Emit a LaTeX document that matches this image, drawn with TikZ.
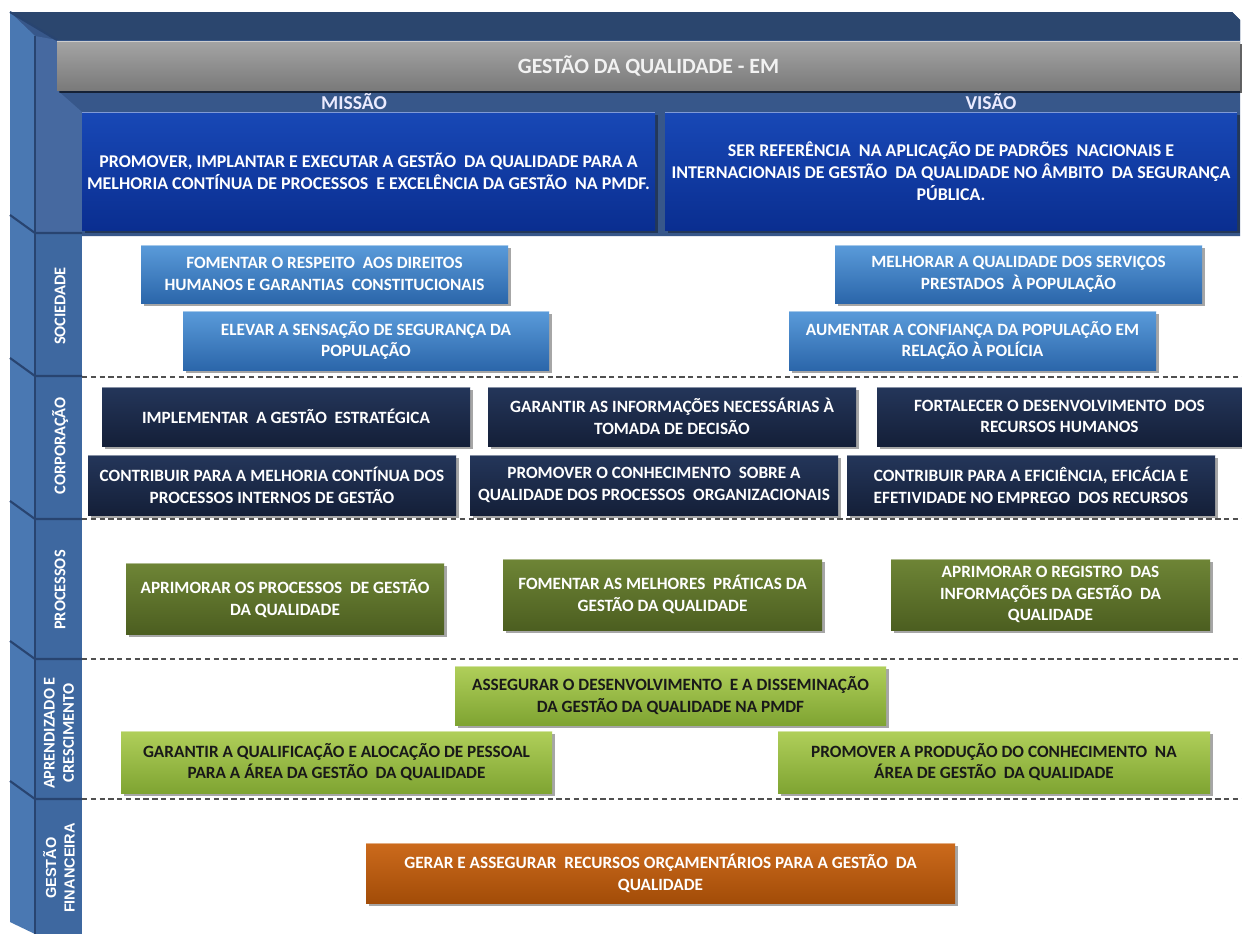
\documentclass[tikz,border=0pt]{standalone}
\usepackage{fontspec}
\setmainfont{Carlito}
\newfontfamily\arialf{Liberation Sans}
\usetikzlibrary{shadows}
\definecolor{panelc}{HTML}{37578A}
\definecolor{bandc}{HTML}{2B466E}
\definecolor{stripc}{HTML}{4A78B2}
\definecolor{facec}{HTML}{3E68A0}
\definecolor{facetop}{HTML}{4669A0}
\definecolor{bevc}{HTML}{284470}
\definecolor{grayA}{HTML}{A4A4A4}
\definecolor{grayB}{HTML}{7A7A7A}
\definecolor{misA}{HTML}{1848B6}
\definecolor{misB}{HTML}{0A2E90}
\definecolor{socA}{HTML}{5A9BDA}
\definecolor{socB}{HTML}{2B66AA}
\definecolor{navA}{HTML}{24365A}
\definecolor{navB}{HTML}{141F38}
\definecolor{oliA}{HTML}{6E8536}
\definecolor{oliB}{HTML}{4C5E20}
\definecolor{grnA}{HTML}{B0CF5A}
\definecolor{grnB}{HTML}{7FA432}
\definecolor{orA}{HTML}{CC6A1C}
\definecolor{orB}{HTML}{A24C08}
\definecolor{dashc}{HTML}{505050}
\newcommand\mybox[7]{%
  \node[#2, minimum width={(#5-#3)*0.02cm}, minimum height={(#6-#4)*0.02cm}] (#1) at ({(#3+#5)/2},{(#4+#6)/2}) {#7};}
\tikzset{
  box/.style={inner sep=0pt, align=center, text=white,
    font=\bfseries\fontsize{9.8}{12.4}\selectfont,
    drop shadow={shadow xshift=1.5pt, shadow yshift=-1.5pt, opacity=0.35, fill=black},
    path picture={\draw[white, opacity=.45, line width=1.2pt] (path picture bounding box.north west) -- (path picture bounding box.north east);}},
  misbox/.style={box, top color=misA, bottom color=misB, font=\bfseries\fontsize{10.2}{12.6}\selectfont},
  socbox/.style={box, top color=socA, bottom color=socB},
  navbox/.style={box, top color=navA, bottom color=navB},
  olibox/.style={box, top color=oliA, bottom color=oliB},
  grnbox/.style={box, top color=grnA, bottom color=grnB, text=black!90},
  orbox/.style={box, top color=orA, bottom color=orB},
  titlebox/.style={box, top color=grayA, bottom color=grayB, text=white!95!black,
    font=\bfseries\fontsize{12.4}{14}\selectfont, drop shadow={shadow xshift=1pt, shadow yshift=-1.5pt, opacity=0.4, fill=black}},
  header/.style={inner sep=0pt, text=white!92!blue, font=\bfseries\fontsize{11.2}{13}\selectfont},
  sidelabel/.style={inner sep=0pt, rotate=90, align=center, text=white, font=\bfseries\fontsize{9.3}{11}\selectfont},
  dashline/.style={draw=dashc, line width=0.7pt, dash pattern=on 3pt off 2pt},
  bevline/.style={draw=bevc, line width=1.2pt}
}
\begin{document}
\begin{tikzpicture}[x=0.02cm, y=-0.02cm]
\useasboundingbox (0,0) rectangle (1242,934);
\fill[white] (0,0) rectangle (1242,934);
% top panel
\fill[panelc] (10,12) -- (1232,12) -- (1240,20) -- (1240,236) -- (10,236) -- cycle;
\fill[bandc] (10,12) -- (1232,12) -- (1240,20) -- (1240,40) -- (57,40) -- cycle;
% left column
\fill[stripc] (10,12) -- (35,36) -- (35,934) -- (10,922) -- cycle;
\fill[facetop] (35,36) -- (57,40) -- (57,90) -- (82,112) -- (82,233) -- (35,233) -- cycle;
\fill[facec] (35,233) rectangle (82,934);
\draw[bevline] (10,12) -- (57,40);
\foreach \yb in {233,376,519,659,799}{
  \draw[bevline] (10,\yb-18) -- (35,\yb) -- (82,\yb);
}
\draw[bevline] (35,36) -- (35,934);
% title and headers
\mybox{title}{titlebox}{57}{41}{1240}{90}{GESTÃO DA QUALIDADE - EM}
\node[header] (hmis) at (354,102) {MISSÃO};
\node[header] (hvis) at (991,102) {VISÃO};
\mybox{mis}{misbox}{82}{112}{655}{230}{PROMOVER, IMPLANTAR E EXECUTAR A GESTÃO~ DA QUALIDADE PARA A\\MELHORIA CONTÍNUA DE PROCESSOS~ E EXCELÊNCIA DA GESTÃO~ NA PMDF.}
\mybox{vis}{misbox}{665}{112}{1237}{230}{SER REFERÊNCIA~ NA APLICAÇÃO DE PADRÕES~ NACIONAIS E\\INTERNACIONAIS DE GESTÃO~ DA QUALIDADE NO ÂMBITO~ DA SEGURANÇA\\PÚBLICA.}
% side labels
\node[sidelabel] (lsoc) at (60,306) {SOCIEDADE};
\node[sidelabel] (lcor) at (60,446) {CORPORAÇÃO};
\node[sidelabel] (lpro) at (60,590) {PROCESSOS};
\node[sidelabel] (lapr) at (59,733) {APRENDIZADO E\\CRESCIMENTO};
\node[sidelabel, font=\arialf\bfseries\fontsize{8.3}{10.5}\selectfont] (lfin) at (59,868) {GESTÃO\\FINANCEIRA};
% dashed separators
\foreach \yb/\nm in {377/a,519/b,659/c,799/d}{
  \coordinate (ds\nm) at (82,\yb);
  \coordinate (de\nm) at (1242,\yb);
  \draw[dashline] (ds\nm) -- (de\nm);
}
% sociedade
\mybox{s1}{socbox}{141}{245}{508}{303}{FOMENTAR O RESPEITO~ AOS DIREITOS\\HUMANOS E GARANTIAS~ CONSTITUCIONAIS}
\mybox{s2}{socbox}{183}{311}{549}{370}{ELEVAR A SENSAÇÃO DE SEGURANÇA DA\\POPULAÇÃO}
\mybox{s3}{socbox}{835}{245}{1202}{303}{MELHORAR A QUALIDADE DOS SERVIÇOS\\PRESTADOS~ À POPULAÇÃO}
\mybox{s4}{socbox}{789}{311}{1156}{370}{AUMENTAR A CONFIANÇA DA POPULAÇÃO EM\\RELAÇÃO À POLÍCIA}
% corporacao
\mybox{c1}{navbox}{102}{387}{470}{446}{IMPLEMENTAR~ A GESTÃO~ ESTRATÉGICA}
\mybox{c2}{navbox}{488}{387}{856}{446}{GARANTIR AS INFORMAÇÕES NECESSÁRIAS À\\TOMADA DE DECISÃO}
\mybox{c3}{navbox}{877}{387}{1242}{446}{FORTALECER O DESENVOLVIMENTO~ DOS\\RECURSOS HUMANOS}
\mybox{c4}{navbox}{88}{455}{456}{515}{CONTRIBUIR PARA A MELHORIA CONTÍNUA DOS\\PROCESSOS INTERNOS DE GESTÃO}
\mybox{c5}{navbox}{470}{455}{838}{515}{PROMOVER O CONHECIMENTO~ SOBRE A\\QUALIDADE DOS PROCESSOS~ ORGANIZACIONAIS}
\mybox{c6}{navbox}{847}{455}{1215}{515}{CONTRIBUIR PARA A EFICIÊNCIA, EFICÁCIA E\\EFETIVIDADE NO EMPREGO~ DOS RECURSOS}
% processos
\mybox{p1}{olibox}{126}{563}{444}{634}{APRIMORAR OS PROCESSOS~ DE GESTÃO\\DA QUALIDADE}
\mybox{p2}{olibox}{503}{559}{822}{630}{FOMENTAR AS MELHORES~ PRÁTICAS DA\\GESTÃO DA QUALIDADE}
\mybox{p3}{olibox}{891}{559}{1210}{630}{APRIMORAR O REGISTRO~ DAS\\INFORMAÇÕES DA GESTÃO~ DA\\QUALIDADE}
% aprendizado
\mybox{a1}{grnbox}{455}{666}{886}{725}{ASSEGURAR O DESENVOLVIMENTO~ E A DISSEMINAÇÃO\\DA GESTÃO DA QUALIDADE NA PMDF}
\mybox{a2}{grnbox}{121}{731}{552}{793}{GARANTIR A QUALIFICAÇÃO E ALOCAÇÃO DE PESSOAL\\PARA A ÁREA DA GESTÃO~ DA QUALIDADE}
\mybox{a3}{grnbox}{778}{731}{1210}{793}{PROMOVER A PRODUÇÃO DO CONHECIMENTO~ NA\\ÁREA DE GESTÃO~ DA QUALIDADE}
% financeira
\mybox{f1}{orbox}{366}{843}{955}{903}{GERAR E ASSEGURAR~ RECURSOS ORÇAMENTÁRIOS PARA A GESTÃO~ DA\\QUALIDADE}
\end{tikzpicture}
\end{document}
